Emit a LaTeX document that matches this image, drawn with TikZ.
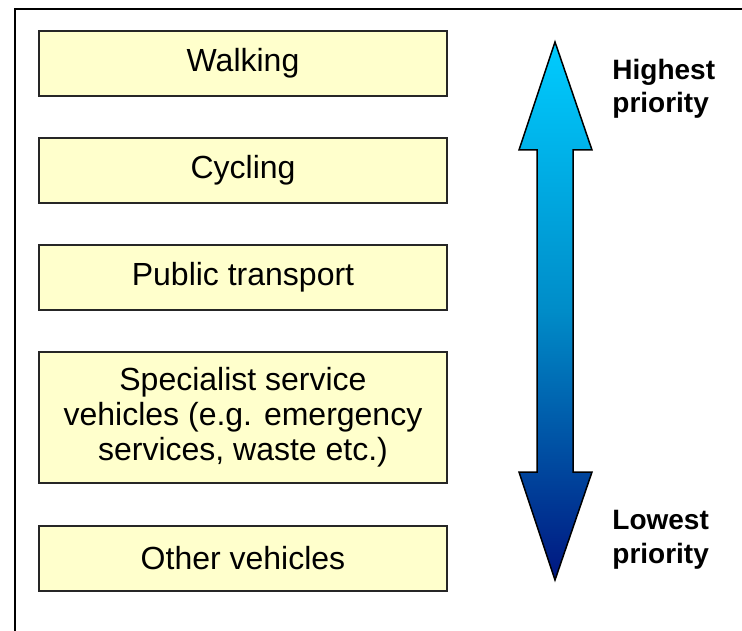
\documentclass[tikz,border=0pt]{standalone}
\usepackage{fontspec}
\setmainfont{Liberation Sans}
\usepackage{tikz}
\definecolor{boxfill}{RGB}{255,255,204}
\definecolor{arrowtop}{RGB}{0,204,255}
\definecolor{arrowmid}{RGB}{0,140,200}
\definecolor{arrowbot}{RGB}{0,22,128}

\begin{document}
\begin{tikzpicture}[x=0.5pt,y=-0.5pt,
  mode/.style={draw=black!85,line width=0.75pt,fill=boxfill,minimum width=204pt,
    align=center,inner sep=0pt,font=\fontsize{16}{17.5}\selectfont},
  rank/.style={anchor=north west,align=left,inner sep=0pt,
    font=\fontsize{14}{16.75}\selectfont\bfseries}]
\useasboundingbox (0,0) rectangle (742,630);
\clip (0,0) rectangle (742,630);
\draw [line width=1pt] (15,700)--(15,9)--(800,9);
% the modes, by priority
\node [mode,minimum height=32.5pt] (walk) at (243,63.5) {Walking};
\node [mode,minimum height=32.5pt] (cycle) at (243,170.5) {Cycling};
\node [mode,minimum height=32.5pt] (bus) at (243,277.5) {Public transport};
\node [mode,minimum height=65.5pt] (service) at (243,417.5) {Specialist service\\vehicles (e.g. emergency\\services, waste etc.)};
\node [mode,minimum height=32.5pt] (other) at (243,558.5) {Other vehicles};
% the double arrow
\shade [top color=arrowtop,bottom color=arrowbot,middle color=arrowmid,
  draw=black,line width=0.75pt,line join=miter]
  (555,42)--(592,150)--(573,150)--(573,472)--(592,472)--(555,580)
  --(519,472)--(537,472)--(537,150)--(519,150)--cycle;
\node [rank] (high) at (612,58.5) {Highest\\priority};
\node [rank] (low) at (612,510) {Lowest\\priority};
\end{tikzpicture}
\end{document}
